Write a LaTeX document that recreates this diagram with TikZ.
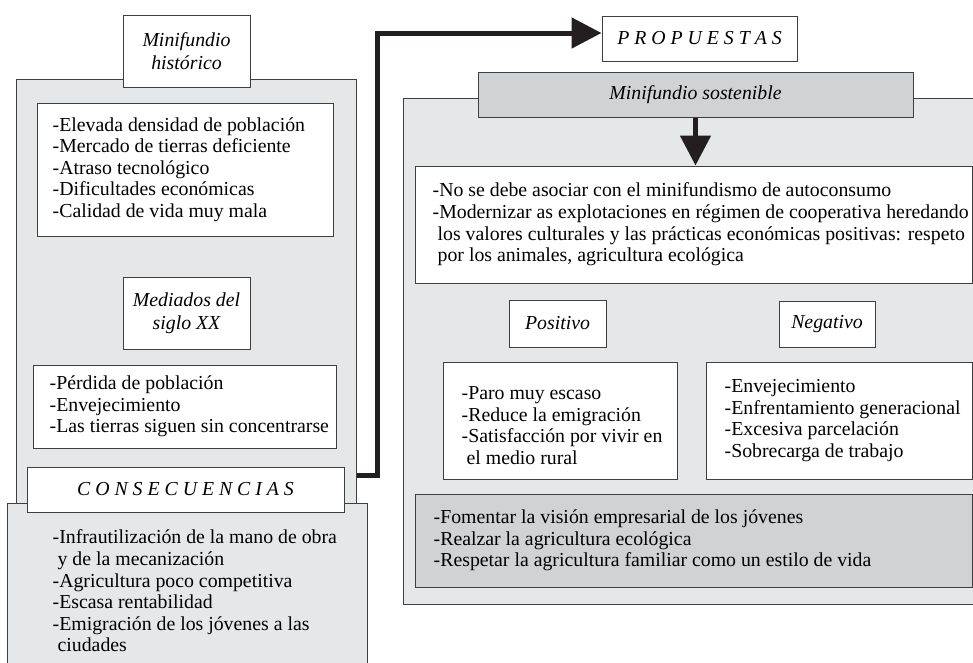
\documentclass[tikz,border=0pt]{standalone}
\usepackage{fontspec}
\setmainfont{Liberation Serif}
\usetikzlibrary{arrows.meta,positioning}
\definecolor{borde}{HTML}{3F3F3F}
\definecolor{grisclaro}{HTML}{E6E7E8}
\definecolor{grisoscuro}{HTML}{D1D2D4}
\definecolor{negro}{HTML}{231F20}

\begin{document}
\begin{tikzpicture}[x=1pt,y=-1pt,
    every node/.style={font=\fontsize{19.8}{21.6}\selectfont},
    titulo/.style={draw=borde, line width=1pt, fill=white, align=center,
      inner sep=0pt, font=\fontsize{19.8}{23}\selectfont\itshape},
    caja/.style={draw=borde, line width=1pt, fill=white, inner sep=0pt},
    panel/.style={caja, fill=grisclaro},
    lista/.style={align=left, inner sep=0pt},
    flecha/.style={draw=negro, line width=5pt, -{Triangle[length=30pt,width=30pt]}}]

  \useasboundingbox (0,0) rectangle (973,662);
  \clip (0,0) rectangle (973,662);

  % Propuestas
  \node[titulo, minimum width=195pt, minimum height=45pt] (prop) at (699.5,38.5) {P R O P U E S T A S};

  % Flecha hacia las propuestas
  \coordinate (salida) at (350,475);
  \draw[flecha] (salida) -- ++(27,0) |- ([yshift=5.5pt]prop.west);

  % Bloque izquierdo
  \node[panel, minimum width=340pt, minimum height=424pt] (historico) at (186,291) {};
  \node[titulo, minimum width=127pt, minimum height=72pt] (tit1) at (186.5,51) {Minifundio\\histórico};
  \node[caja, minimum width=296pt, minimum height=133pt] (caja1) at (185,169.5) {};
  \node[lista, right=16pt of caja1.west] (texto1) {-Elevada densidad de población\\
    -Mercado de tierras deficiente\\
    -Atraso tecnológico\\
    -Dificultades económicas\\
    -Calidad de vida muy mala};

  \node[titulo, minimum width=127pt, minimum height=72pt] (tit2) at (186.5,313) {Mediados del\\siglo XX};
  \node[caja, minimum width=303pt, minimum height=83pt] (caja2) at (184.5,406.5) {};
  \node[lista, right=17pt of caja2.west] (texto2) {-Pérdida de población\\
    -Envejecimiento\\
    -Las tierras siguen sin concentrarse};

  % Consecuencias
  \node[panel, minimum width=360pt, minimum height=187pt] (panelcons) at (187,596.5) {};
  \node[lista, right=46pt of panelcons.west, yshift=5.5pt] (texto3) {-Infrautilización de la mano de obra\\
    \ y de la mecanización\\
    -Agricultura poco competitiva\\
    -Escasa rentabilidad\\
    -Emigración de los jóvenes a las\\
    \ ciudades};
  \node[titulo, minimum width=317pt, minimum height=45pt] (cons) at (185.5,489.5) {C O N S E C U E N C I A S};

  % Bloque derecho
  \node[panel, minimum width=582pt, minimum height=506pt] (sostenible) at (694,351) {};
  \node[titulo, fill=grisoscuro, minimum width=435pt, minimum height=45pt] (sost) at (695.5,94.5) {Minifundio sostenible};
  \node[caja, minimum width=557pt, minimum height=117pt] (caja3) at (693.5,224.5) {};
  \node[lista, right=18pt of caja3.west] (texto4) {-No se debe asociar con el minifundismo de autoconsumo\\
    -Modernizar as explotaciones en régimen de cooperativa heredando\\
    \ los valores culturales y las prácticas económicas positivas: respeto\\
    \ por los animales, agricultura ecológica};
  \draw[flecha] (sost.south) -- (sost.south |- caja3.north);

  \node[titulo, minimum width=97pt, minimum height=47pt] (posit) at (557.5,323.5) {Positivo};
  \node[titulo, minimum width=96pt, minimum height=46pt] (negat) at (827,324) {Negativo};

  \node[caja, minimum width=234pt, minimum height=117pt] (caja4) at (560,420.5) {};
  \node[lista, right=19pt of caja4.west, yshift=-5pt] (texto5) {-Paro muy escaso\\
    -Reduce la emigración\\
    -Satisfacción por vivir en\\
    \ el medio rural};
  \node[caja, minimum width=266pt, minimum height=117pt] (caja5) at (839,420.5) {};
  \node[lista, right=19pt of caja5.west] (texto6) {-Envejecimiento\\
    -Enfrentamiento generacional\\
    -Excesiva parcelación\\
    -Sobrecarga de trabajo};

  \node[caja, fill=grisoscuro, minimum width=557pt, minimum height=93pt] (caja6) at (693.5,540.5) {};
  \node[lista, right=19pt of caja6.west] (texto7) {-Fomentar la visión empresarial de los jóvenes\\
    -Realzar la agricultura ecológica\\
    -Respetar la agricultura familiar como un estilo de vida};
\end{tikzpicture}
\end{document}
